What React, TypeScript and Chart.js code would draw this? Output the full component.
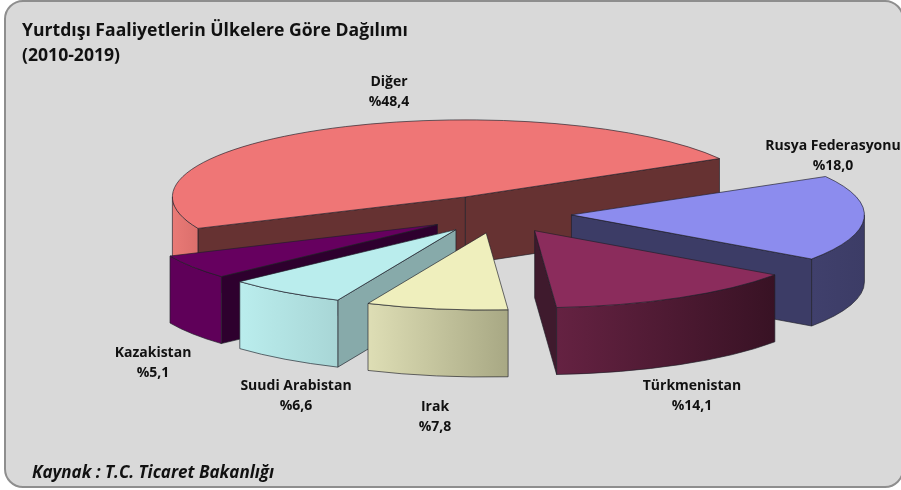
import React, { useEffect, useRef } from "react";
import { Chart, registerables } from "chart.js";

Chart.register(...registerables);

const categories = ["Diğer", "Rusya Federasyonu", "Türkmenistan", "Irak", "Suudi Arabistan", "Kazakistan"];
const shares = [48.4, 18.0, 14.1, 7.8, 6.6, 5.1];

const topColors = ["#EF7676", "#8C8CEE", "#8B2C5C", "#EFEFBD", "#BAEDED", "#66005F"];
const cutColors = ["#663232", "#3C3C66", "#3F1A2D", "#87876A", "#87AAAA", "#2E002E"];
const wallLeftColors = ["#E97A76", "#40406C", "#652242", "#DEDEB5", "#BAEDED", "#5F0059"];
const wallRightColors = ["#DB6F6C", "#3C3C66", "#381224", "#A8A884", "#A8D6D6", "#5F0059"];
const paintOrder = [0, 1, 5, 4, 2, 3];
const labelCentres: [number, number][] = [
  [389, 82],
  [833, 146],
  [692, 386],
  [435, 407],
  [296, 386],
  [153, 353],
];

const SOURCE = "Kaynak : T.C. Ticaret Bakanlığı";
const SQUASH = 0.263;
const DEPTH = 67;
const EXPLODE = 73;
const RADIUS = 293;
const SHIFT_X = 37;
const FONT = '"Open Sans", sans-serif';

const pie3d = {
  id: "pie3d",
  beforeDraw(chart: any) {
    const { ctx, width, height } = chart;
    ctx.save();
    ctx.beginPath();
    ctx.roundRect(5, 1, width - 3, height - 4, 18);
    ctx.fillStyle = "#D9D9D9";
    ctx.fill();
    ctx.lineWidth = 2;
    ctx.strokeStyle = "#8E8E8E";
    ctx.stroke();
    ctx.restore();
  },
  beforeDatasetsDraw(chart: any) {
    const { ctx } = chart;
    const arcs = chart.getDatasetMeta(0).data;
    for (const i of paintOrder) {
      const arc = arcs[i];
      const s = arc.startAngle;
      const e = arc.endAngle;
      const mid = (s + e) / 2;
      const a = arc.outerRadius;
      const b = a * SQUASH;
      const cx = arc.x + SHIFT_X + Math.cos(mid) * EXPLODE;
      const cy = arc.y + Math.sin(mid) * EXPLODE * SQUASH;
      const px = (t: number) => cx + a * Math.cos(t);
      const py = (t: number) => cy + b * Math.sin(t);
      ctx.save();
      ctx.lineWidth = 1;
      ctx.lineJoin = "round";
      ctx.strokeStyle = "rgba(30,30,40,0.65)";
      for (const [t, normal] of [[s, s - Math.PI / 2], [e, e + Math.PI / 2]]) {
        if (Math.sin(normal) > 0) {
          ctx.beginPath();
          ctx.moveTo(cx, cy);
          ctx.lineTo(px(t), py(t));
          ctx.lineTo(px(t), py(t) + DEPTH);
          ctx.lineTo(cx, cy + DEPTH);
          ctx.closePath();
          ctx.fillStyle = cutColors[i];
          ctx.fill();
          ctx.stroke();
        }
      }
      const spans: [number, number][] = [];
      for (let k = -1; k <= 1; k++) {
        const lo = Math.max(s, k * 2 * Math.PI);
        const hi = Math.min(e, k * 2 * Math.PI + Math.PI);
        if (hi > lo) spans.push([lo, hi]);
      }
      for (const [lo, hi] of spans) {
        const xs = [px(lo), px(hi)];
        const g = ctx.createLinearGradient(Math.min(...xs), 0, Math.max(...xs), 0);
        g.addColorStop(0, wallLeftColors[i]);
        g.addColorStop(1, wallRightColors[i]);
        ctx.beginPath();
        ctx.ellipse(cx, cy, a, b, 0, lo, hi);
        ctx.lineTo(px(hi), py(hi) + DEPTH);
        ctx.ellipse(cx, cy + DEPTH, a, b, 0, hi, lo, true);
        ctx.closePath();
        ctx.fillStyle = g;
        ctx.fill();
        ctx.stroke();
      }
      ctx.save();
      ctx.translate(cx, cy);
      ctx.scale(1, SQUASH);
      ctx.translate(-arc.x, -arc.y);
      arc.draw(ctx);
      ctx.restore();
      ctx.beginPath();
      ctx.moveTo(cx, cy);
      ctx.ellipse(cx, cy, a, b, 0, s, e);
      ctx.closePath();
      ctx.stroke();
      ctx.restore();
    }
    return false;
  },
  afterDraw(chart: any) {
    const { ctx } = chart;
    ctx.save();
    ctx.fillStyle = "#111111";
    ctx.textAlign = "center";
    ctx.textBaseline = "middle";
    ctx.font = `700 14px ${FONT}`;
    categories.forEach((name, i) => {
      const [x, y] = labelCentres[i];
      ctx.fillText(name, x, y);
      ctx.fillText(`%${shares[i].toFixed(1).replace(".", ",")}`, x, y + 20);
    });
    ctx.textAlign = "left";
    ctx.font = `italic 700 17px ${FONT}`;
    ctx.fillText(SOURCE, 32, 473.5);
    ctx.restore();
  },
};

export default function App() {
  const ref = useRef<HTMLCanvasElement>(null);
  useEffect(() => {
    document.body.style.margin = "0";
    const chart = new Chart(ref.current as HTMLCanvasElement, {
      type: "pie",
      data: {
        labels: categories,
        datasets: [
          {
            data: shares,
            backgroundColor: topColors,
            borderWidth: 0,
            offset: 0,
            radius: RADIUS,
          } as any,
        ],
      },
      options: {
        animation: false,
        responsive: false,
        rotation: 245.9,
        layout: { padding: { left: 22, right: 0, top: 0, bottom: 131 } },
        plugins: {
          legend: { display: false },
          tooltip: { enabled: false },
          title: {
            display: true,
            align: "start",
            text: ["Yurtdışı Faaliyetlerin Ülkelere Göre Dağılımı", "(2010-2019)"],
            color: "#111111",
            font: { family: FONT, size: 17.6, weight: "700", lineHeight: 1.45 },
            padding: { top: 18, bottom: 0 },
          },
        },
      },
      plugins: [pie3d],
    } as any);
    return () => chart.destroy();
  }, []);
  return <canvas ref={ref} width={901} height={490} style={{ display: "block" }} />;
}
